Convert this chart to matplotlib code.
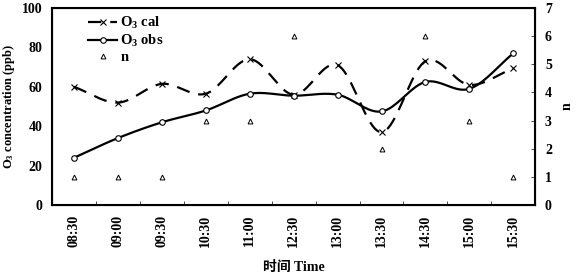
import numpy as np
import matplotlib.pyplot as plt
from matplotlib.lines import Line2D

times = ["08:30", "09:00", "09:30", "10:30", "11:00", "12:30",
         "13:00", "13:30", "14:30", "15:00", "15:30"]
o3_cal = [60, 52, 61.5, 56.5, 74, 56, 71, 37, 73, 61, 69.5]
o3_obs = [24, 34, 42, 48, 56.5, 55.5, 56, 47.5, 62.5, 59, 77]
n_vals = [1, 1, 1, 3, 3, 6, np.nan, 2, 6, 3, 1]


def smooth(x, y, steps=20):
    # catmull-rom, like Excel "smoothed line"
    x = np.asarray(x, float)
    y = np.asarray(y, float)
    px = np.concatenate([[2 * x[0] - x[1]], x, [2 * x[-1] - x[-2]]])
    py = np.concatenate([[2 * y[0] - y[1]], y, [2 * y[-1] - y[-2]]])
    xs, ys = [], []
    t = np.linspace(0, 1, steps, endpoint=False)
    for i in range(1, len(px) - 2):
        for p, out in ((px, xs), (py, ys)):
            p0, p1, p2, p3 = p[i - 1], p[i], p[i + 1], p[i + 2]
            out.extend(0.5 * (2 * p1 + (-p0 + p2) * t
                              + (2 * p0 - 5 * p1 + 4 * p2 - p3) * t ** 2
                              + (-p0 + 3 * p1 - 3 * p2 + p3) * t ** 3))
    xs.append(x[-1])
    ys.append(y[-1])
    return np.array(xs), np.array(ys)


plt.rcParams['font.family'] = ['Liberation Serif', 'Noto Sans CJK SC']
plt.rcParams['font.weight'] = 'bold'
plt.rcParams['mathtext.fontset'] = 'custom'
plt.rcParams['mathtext.rm'] = 'Liberation Serif:bold'
plt.rcParams['mathtext.it'] = 'Liberation Serif:bold'
plt.rcParams['mathtext.bf'] = 'Liberation Serif:bold'

fs = 10
fig = plt.figure(figsize=(5.76, 2.76), dpi=100)
ax = fig.add_axes([0.0903, 0.257, 0.839, 0.714])
x = np.arange(len(times))

sx, sy = smooth(x, o3_cal)
ax.plot(sx, sy, color="black", lw=1.6, dashes=(6, 4))
ax.plot(x, o3_cal, "x", color="black", ms=5, mew=0.8)
sx, sy = smooth(x, o3_obs)
ax.plot(sx, sy, color="black", lw=1.6)
ax.plot(x, o3_obs, "o", color="black", mfc="white", ms=4, mew=0.8)

ax.set_xlim(-0.5, len(times) - 0.5)
ax.set_ylim(0, 100)
ax.set_yticks(range(0, 101, 20))
ax.set_xticks(x)
ax.set_xticklabels(times, rotation=90, fontsize=fs, fontweight="bold")
ax.set_xticks(x[:-1] + 0.5, minor=True)
ax.tick_params(axis="x", which="major", length=0, pad=7)
ax.tick_params(axis="x", which="minor", direction="in", length=3, width=0.5)
ax.tick_params(axis="y", direction="in", length=0, labelsize=fs, pad=7)
ax.set_ylabel("O$_3$ concentration (ppb)", fontsize=9, fontweight="bold", labelpad=3)
ax.set_xlabel("时间 Time", fontsize=fs, fontweight="bold", labelpad=10)
for s in ax.spines.values():
    s.set_linewidth(1.5)

ax2 = ax.twinx()
ax2.plot(x, n_vals, "^", color="black", mfc="white", ms=3.5, mew=0.7)
ax2.set_ylim(0, 7)
ax2.set_yticks(range(0, 8))
ax2.tick_params(axis="y", direction="in", length=3, width=0.5, labelsize=fs, pad=7)
ax2.set_ylabel("n", fontsize=fs, fontweight="bold", labelpad=6)

handles = [
    Line2D([], [], color="black", lw=1.6, dashes=(6, 4), marker="x", ms=5, mew=0.8),
    Line2D([], [], color="black", lw=1.6, marker="o", mfc="white", ms=4, mew=0.8),
    Line2D([], [], color="none", marker="^", mec="black", mfc="white", ms=3.5, mew=0.7),
]
ax.legend(handles, ["O$_3$ cal", "O$_3$ obs", "n"], loc="upper left",
          frameon=False, fontsize=10.5, handlelength=2.0, handletextpad=0.2,
          borderaxespad=0.1, labelspacing=0.1, bbox_to_anchor=(0.06, 1.0))

fig.savefig("out.png", dpi=100)
